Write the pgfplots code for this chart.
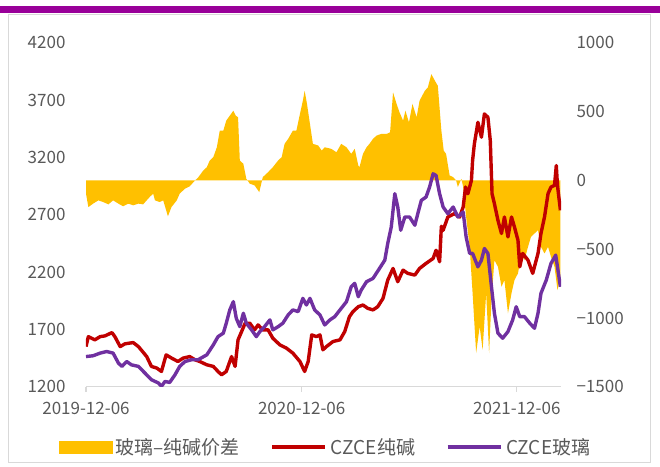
\documentclass[border=0pt]{standalone}
\usepackage{pgfplots}
\pgfplotsset{compat=1.18}
\usepackage{pgfplotstable}
\usepackage{fontspec}
\setmainfont{Noto Sans CJK SC}

\definecolor{gold}{HTML}{FFC000}
\definecolor{sodared}{HTML}{C00000}
\definecolor{glasspurple}{HTML}{7030A0}
\definecolor{topbar}{HTML}{990099}
\definecolor{labelgray}{HTML}{595959}
\definecolor{rulegray}{HTML}{D9D9D9}

% x = days since 2019-12-06
\pgfplotstableread{
day spread
0 -96
4 -194
12 -169
21 -145
29 -157
38 -174
46 -145
55 -169
63 -188
72 -169
80 -181
89 -169
97 -174
103 -145
108 -121
114 -96
117 -145
125 -157
131 -145
136 -217
139 -261
145 -194
154 -145
159 -96
168 -60
176 -43
185 0
190 20
199 72
205 96
210 145
216 169
222 241
227 362
233 362
238 435
244 471
250 507
254 471
258 459
261 145
267 121
272 12
278 -24
286 -36
294 -85
300 24
309 60
317 96
326 145
332 169
337 266
343 302
351 362
357 362
363 483
368 580
371 652
375 556
380 411
385 266
394 254
400 217
405 241
416 230
425 205
433 266
442 241
450 193
456 230
462 109
464 96
470 193
476 241
481 266
487 302
493 326
501 338
510 338
516 350
521 640
527 556
532 495
538 435
542 507
548 422
554 556
561 459
566 580
575 652
580 676
586 773
592 725
597 688
603 362
607 217
611 193
617 36
623 24
628 0
631 -48
637 12
640 -48
645 -266
651 -483
656 -821
662 -1255
668 -1063
673 -1232
679 -821
684 -1255
688 -870
693 -580
699 -628
705 -773
710 -725
716 -966
722 -821
727 -725
733 -676
739 -531
744 -580
750 -483
755 -411
761 -386
767 -362
772 -483
778 -531
784 -483
789 -556
795 -628
800 -797
805 -701
}\spread

\pgfplotstableread{
day soda
0 1550
4 1637
15 1609
24 1637
32 1643
44 1672
49 1637
58 1550
66 1574
80 1585
89 1550
103 1463
111 1377
120 1363
128 1333
136 1478
145 1450
156 1420
165 1450
176 1463
185 1435
193 1420
205 1391
216 1377
224 1333
230 1304
238 1333
247 1463
253 1377
258 1609
264 1681
270 1754
278 1754
286 1696
292 1739
300 1696
309 1696
317 1623
329 1565
340 1537
351 1493
363 1420
371 1333
377 1420
383 1652
391 1637
397 1652
402 1522
408 1550
419 1594
431 1609
439 1681
447 1811
453 1855
462 1898
470 1913
478 1884
487 1870
495 1898
504 1971
512 2130
521 2232
529 2116
538 2217
546 2189
558 2174
566 2232
577 2276
589 2319
594 2391
600 2290
603 2600
606 2565
614 2681
625 2710
634 2681
640 2768
644 2942
648 2884
654 3000
656 3174
659 3319
665 3507
671 3377
676 3580
682 3551
686 3348
689 2884
693 2797
699 2652
705 2537
710 2681
716 2507
722 2681
727 2594
733 2478
736 2246
741 2363
750 2304
758 2189
767 2363
772 2537
778 2681
784 2884
789 2942
795 2957
798 3130
800 2957
805 2739
}\soda

\pgfplotstableread{
day glass
0 1463
12 1470
24 1493
35 1507
46 1493
55 1406
61 1377
69 1420
77 1391
89 1377
100 1319
111 1261
123 1232
128 1203
134 1246
142 1237
151 1304
159 1377
168 1420
179 1435
190 1435
205 1478
216 1565
224 1637
233 1667
238 1754
244 1870
250 1942
255 1797
261 1724
267 1841
272 1754
281 1696
289 1637
295 1681
303 1724
312 1783
317 1696
326 1724
334 1754
343 1826
351 1870
360 1855
368 1971
374 1913
380 1971
388 1870
397 1826
405 1739
414 1783
422 1811
431 1870
442 1942
450 2072
456 2102
462 1985
467 2043
476 2116
487 2145
498 2232
507 2304
512 2450
518 2594
524 2884
529 2768
534 2565
541 2681
549 2681
558 2609
563 2710
569 2826
577 2855
583 2942
589 3058
594 3043
600 2884
606 2768
614 2710
623 2768
631 2681
640 2725
645 2507
651 2363
656 2363
665 2246
671 2304
676 2406
682 2363
688 2072
693 1841
699 1667
707 1623
716 1681
724 1783
730 1898
736 1811
744 1811
753 1754
761 1710
767 1841
772 2015
781 2130
789 2276
797 2348
800 2246
805 2072
}\glass

\pgfplotsset{
  panel/.style={
    scale only axis, width=475pt, height=343.8pt,
    xmin=0, xmax=806,
    tick label style={font=\fontsize{17}{20}\selectfont, text=labelgray},
  },
}

\begin{document}
\begin{tikzpicture}
\path[use as bounding box] (-86pt,-79.3pt) rectangle (574pt,386.7pt);

% spread, right axis
\begin{axis}[
  panel,
  ymin=-1500, ymax=1000,
  hide x axis,
  axis y line*=right,
  y axis line style={draw=none},
  ytick={-1500,-1000,-500,0,500,1000},
  yticklabels={−1500,−1000,−500,0,500,1000},
  ytick style={draw=none},
  yticklabel style={anchor=west, xshift=12pt},
]
\addplot[fill=gold, draw=none] table[x=day, y=spread]{\spread} \closedcycle;
\end{axis}

% prices, left axis
\begin{axis}[
  panel,
  ymin=1200, ymax=4200,
  axis x line*=bottom, axis y line*=left,
  y axis line style={draw=none},
  x axis line style={draw=rulegray, line width=1.2pt, -},
  ytick={1200,1700,2200,2700,3200,3700,4200},
  yticklabels={1200,1700,2200,2700,3200,3700,4200},
  ytick style={draw=none},
  yticklabel style={anchor=east, xshift=-12pt},
  xtick={0,366,731},
  xticklabels={2019-12-06,2020-12-06,2021-12-06},
  xtick style={draw=rulegray, line width=1.2pt},
  tick align=outside, major tick length=5pt,
  xticklabel style={yshift=-7pt},
  no markers,
  legend columns=3,
  legend image code/.code={\draw[#1, line width=4pt] (0pt,0pt) -- (53pt,0pt);},
  legend style={
    at={(-0.058,-0.1754)}, anchor=west,
    draw=none, fill=none, inner sep=0pt,
    font=\fontsize{19}{22}\selectfont, text=labelgray,
    nodes={inner xsep=3.5pt, inner ysep=0pt},
    /tikz/every even column/.append style={column sep=27pt},
  },
]
\addlegendimage{legend image code/.code={\fill[gold] (0pt,-6pt) rectangle (53pt,6pt);}}
\addlegendentry{玻璃–纯碱价差}
\addplot[sodared, line width=3.4pt, line join=round] table[x=day, y=soda]{\soda};
\addlegendentry{CZCE纯碱}
\addplot[glasspurple, line width=3.4pt, line join=round] table[x=day, y=glass]{\glass};
\addlegendentry{CZCE玻璃}
\end{axis}

\draw[rulegray, line width=1pt] (-77pt,-75.3pt) rectangle (564pt,371.7pt);
\fill[topbar] (-86pt,373.7pt) rectangle (574pt,380.7pt);
\end{tikzpicture}
\end{document}
